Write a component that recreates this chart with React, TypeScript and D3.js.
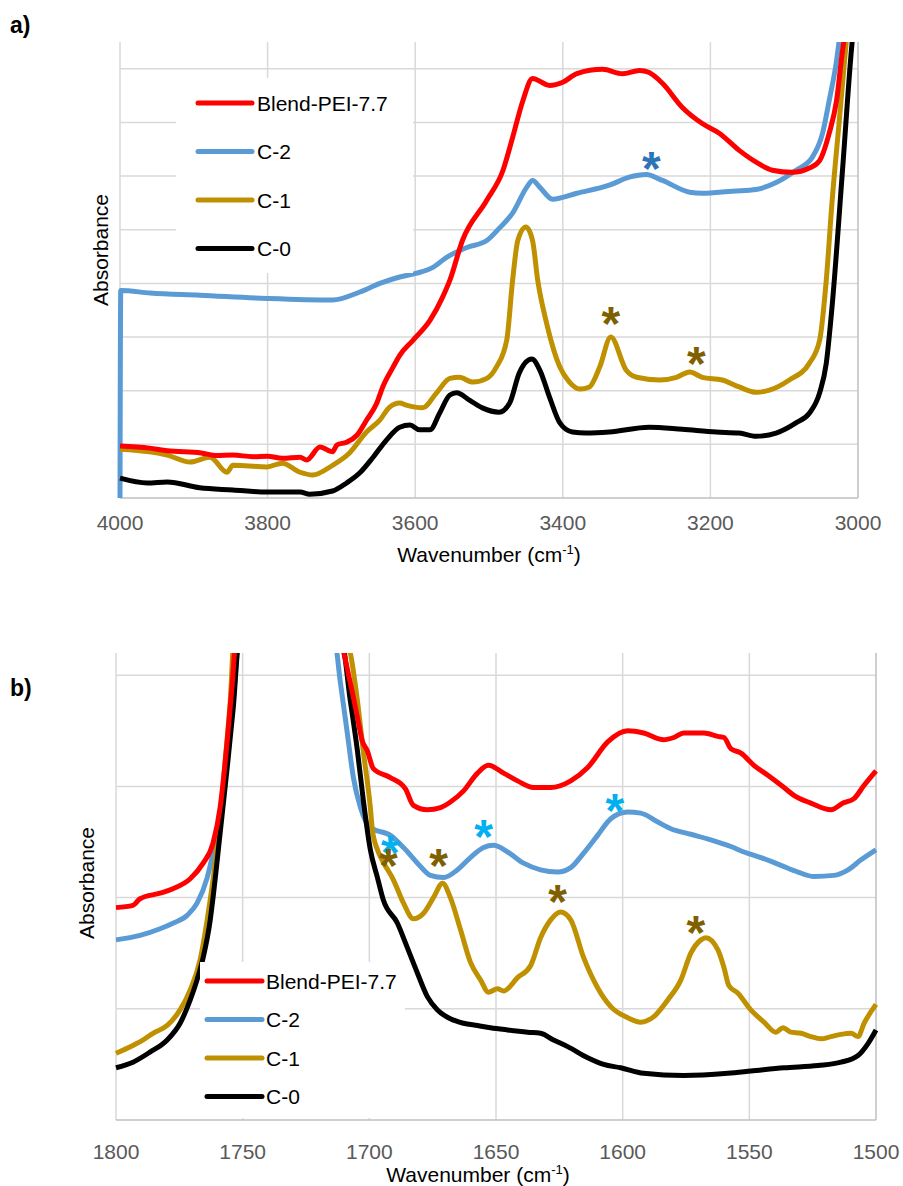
import React, { useEffect, useRef } from 'react';
import * as d3 from 'd3';

// series names (legend order)
const seriesNames = ['Blend-PEI-7.7', 'C-2', 'C-1', 'C-0'];

// panel a) 4000-3000 cm-1, [wavenumber, absorbance]
const aBlend = [[4000,0.097],[3960,0.093],[3936,0.088],[3890,0.084],[3870,0.079],[3847,0.080],[3820,0.077],[3800,0.078],[3780,0.074],[3756,0.076],[3747,0.071],[3729,0.095],[3712,0.086],[3706,0.099],[3693,0.104],[3679,0.117],[3666,0.145],[3652,0.177],[3644,0.207],[3630,0.244],[3621,0.266],[3603,0.294],[3580,0.331],[3563,0.374],[3553,0.406],[3536,0.480],[3503,0.555],[3481,0.611],[3468,0.672],[3454,0.741],[3441,0.782],[3418,0.769],[3400,0.775],[3381,0.791],[3346,0.799],[3319,0.791],[3296,0.797],[3283,0.793],[3265,0.773],[3238,0.728],[3211,0.698],[3188,0.680],[3161,0.648],[3138,0.626],[3116,0.611],[3089,0.607],[3066,0.615],[3052,0.629],[3039,0.680],[3029,0.741],[3021,0.834],[3017,0.87]];
const aC2 = [[4000,0],[3999,0.387],[3959,0.382],[3892,0.378],[3801,0.372],[3712,0.369],[3675,0.384],[3648,0.400],[3621,0.412],[3598,0.419],[3576,0.430],[3557,0.449],[3530,0.467],[3503,0.480],[3486,0.503],[3468,0.531],[3449,0.579],[3441,0.592],[3431,0.579],[3414,0.557],[3381,0.568],[3337,0.583],[3310,0.598],[3287,0.603],[3265,0.592],[3228,0.570],[3211,0.568],[3170,0.572],[3138,0.575],[3111,0.588],[3084,0.611],[3062,0.635],[3048,0.680],[3039,0.741],[3029,0.816],[3024,0.87]];
const aC1 = [[4000,0.091],[3960,0.086],[3936,0.080],[3905,0.067],[3878,0.076],[3855,0.048],[3847,0.061],[3830,0.060],[3801,0.058],[3780,0.065],[3756,0.048],[3739,0.043],[3712,0.061],[3689,0.084],[3666,0.123],[3648,0.145],[3635,0.169],[3621,0.177],[3612,0.173],[3590,0.168],[3571,0.196],[3553,0.223],[3540,0.225],[3522,0.216],[3503,0.223],[3490,0.244],[3476,0.294],[3468,0.406],[3461,0.480],[3450,0.505],[3441,0.480],[3434,0.406],[3422,0.326],[3404,0.244],[3391,0.216],[3377,0.203],[3364,0.207],[3350,0.244],[3335,0.300],[3314,0.238],[3300,0.225],[3269,0.220],[3246,0.225],[3228,0.235],[3211,0.225],[3184,0.220],[3161,0.207],[3138,0.197],[3120,0.201],[3093,0.220],[3066,0.251],[3052,0.294],[3043,0.406],[3035,0.555],[3025,0.709],[3016,0.849],[3013,0.89]];
const aC0 = [[4000,0.037],[3963,0.028],[3936,0.030],[3892,0.019],[3847,0.015],[3801,0.011],[3756,0.011],[3743,0.007],[3712,0.013],[3693,0.028],[3675,0.047],[3657,0.076],[3639,0.108],[3621,0.132],[3607,0.136],[3594,0.127],[3580,0.127],[3567,0.158],[3553,0.192],[3544,0.196],[3526,0.182],[3509,0.168],[3486,0.160],[3472,0.177],[3459,0.233],[3442,0.259],[3431,0.238],[3418,0.188],[3404,0.140],[3387,0.123],[3368,0.121],[3337,0.123],[3283,0.132],[3238,0.128],[3192,0.123],[3161,0.121],[3138,0.115],[3111,0.121],[3084,0.140],[3066,0.158],[3052,0.196],[3043,0.251],[3035,0.359],[3021,0.611],[3008,0.849],[3005,0.89]];

// panel b) 1800-1500 cm-1
const bBlend = [[1800,0.191],[1793.3,0.193],[1790.5,0.199],[1782.6,0.204],[1777.5,0.208],[1770.7,0.217],[1765.6,0.231],[1761.7,0.249],[1758.9,0.281],[1756.1,0.341],[1754.1,0.393],[1752.6,0.431],[1712.2,0.431],[1707.5,0.393],[1704.7,0.362],[1702.8,0.341],[1700.8,0.332],[1698.4,0.316],[1691.7,0.308],[1685.8,0.298],[1682.6,0.283],[1677.1,0.279],[1671.9,0.281],[1668,0.286],[1662.8,0.296],[1657.3,0.312],[1653,0.319],[1647,0.312],[1641.5,0.305],[1635.2,0.299],[1628.4,0.299],[1620.5,0.305],[1613.8,0.317],[1605.9,0.340],[1598,0.350],[1591.7,0.348],[1583.8,0.342],[1579.8,0.344],[1575.9,0.348],[1568,0.348],[1562.4,0.345],[1560,0.344],[1557.3,0.334],[1553.3,0.330],[1548.2,0.319],[1542.7,0.310],[1536.3,0.299],[1532.4,0.292],[1525.7,0.285],[1517.8,0.279],[1513,0.285],[1508.7,0.289],[1504.7,0.301],[1500,0.314]];
const bC2 = [[1800,0.162],[1790.5,0.166],[1782.6,0.172],[1777.5,0.177],[1771.9,0.184],[1768,0.195],[1764,0.218],[1761.7,0.240],[1758.9,0.272],[1756.1,0.326],[1753.7,0.377],[1751.4,0.431],[1713.8,0.431],[1711.4,0.393],[1708.7,0.348],[1706.3,0.308],[1703.5,0.281],[1699.6,0.263],[1691.7,0.256],[1686.5,0.245],[1681,0.231],[1675.9,0.220],[1670.7,0.218],[1665.2,0.225],[1660.1,0.236],[1654.9,0.245],[1651,0.247],[1645.4,0.241],[1639.1,0.231],[1632.4,0.225],[1625.7,0.223],[1620.5,0.227],[1615.4,0.240],[1609.9,0.256],[1604.7,0.271],[1598,0.277],[1592.9,0.276],[1586.1,0.268],[1581,0.262],[1573.1,0.257],[1565.2,0.252],[1557.3,0.246],[1552.1,0.241],[1545.4,0.236],[1537.5,0.229],[1530.8,0.223],[1524.5,0.219],[1516.6,0.220],[1511,0.225],[1505.9,0.234],[1500,0.243]];
const bC1 = [[1800,0.060],[1793.3,0.067],[1789.3,0.072],[1785.4,0.078],[1779.8,0.085],[1774.7,0.099],[1770.7,0.117],[1766.8,0.144],[1764,0.180],[1761.7,0.216],[1758.9,0.270],[1756.9,0.323],[1754.9,0.377],[1753.4,0.431],[1708.7,0.431],[1707.5,0.420],[1704.7,0.377],[1702.4,0.332],[1699.6,0.281],[1698.8,0.261],[1696.8,0.243],[1694.5,0.232],[1690.5,0.216],[1686.5,0.195],[1682.6,0.181],[1678.6,0.186],[1674.7,0.200],[1671.1,0.213],[1668,0.200],[1664,0.171],[1660.1,0.142],[1656.1,0.126],[1653,0.115],[1649.4,0.118],[1647,0.116],[1641.5,0.128],[1636.3,0.139],[1632.4,0.164],[1628.4,0.180],[1624.5,0.187],[1620.5,0.180],[1615.4,0.146],[1609.9,0.119],[1604.7,0.102],[1598,0.092],[1592.9,0.088],[1587.7,0.093],[1582.2,0.108],[1577,0.126],[1573.1,0.150],[1569.1,0.162],[1567.2,0.164],[1562.4,0.153],[1560,0.137],[1558.1,0.121],[1554.5,0.114],[1549.4,0.099],[1544.2,0.088],[1539.5,0.079],[1536.7,0.083],[1533.6,0.079],[1529.6,0.078],[1525.7,0.075],[1521.7,0.073],[1517.8,0.075],[1513.8,0.077],[1509.8,0.078],[1507.1,0.075],[1504.7,0.087],[1500,0.104]];
const bC0 = [[1800,0.047],[1793.3,0.052],[1786.6,0.061],[1779.8,0.072],[1774.7,0.087],[1770.7,0.108],[1768,0.126],[1765.6,0.146],[1762.8,0.180],[1761.7,0.200],[1758.9,0.258],[1756.1,0.317],[1753.7,0.371],[1751.4,0.431],[1711.1,0.431],[1707.5,0.377],[1704.7,0.332],[1702.4,0.288],[1699.6,0.243],[1696.8,0.218],[1694.5,0.198],[1688.9,0.177],[1685,0.155],[1681,0.132],[1677.1,0.111],[1673.1,0.099],[1668,0.091],[1662.8,0.087],[1657.3,0.085],[1652.2,0.083],[1645.4,0.081],[1637.5,0.079],[1632.4,0.078],[1627.3,0.072],[1621.7,0.066],[1613.8,0.056],[1607.5,0.050],[1600.8,0.047],[1591.7,0.042],[1575.9,0.040],[1558.5,0.042],[1549.4,0.044],[1536.3,0.047],[1522.9,0.049],[1513.8,0.052],[1507.1,0.058],[1503.1,0.069],[1500,0.081]];

// asterisk marks [series, wavenumber, absorbance]
const starsA = [['C-2',3280,0.633],['C-1',3335,0.345],['C-1',3219,0.270]];
const starsB = [['C-2',1691.7,0.250],['C-1',1692.5,0.238],['C-1',1672.7,0.238],['C-2',1654.9,0.264],['C-1',1625.7,0.206],['C-2',1603.1,0.288],['C-1',1571.1,0.178]];

const ticksA = [4000, 3800, 3600, 3400, 3200, 3000];
const ticksB = [1800, 1750, 1700, 1650, 1600, 1550, 1500];
const gridA = [0.1, 0.2, 0.3, 0.4, 0.5, 0.6, 0.7, 0.8];
const gridB = [0.1, 0.2, 0.3, 0.4];

const lineColors = { 'Blend-PEI-7.7': '#ff0000', 'C-2': '#5b9bd5', 'C-1': '#bf9000', 'C-0': '#000000' };
const drawOrder = ['C-2', 'C-1', 'C-0', 'Blend-PEI-7.7'];
const FONT = '"Liberation Sans", Arial, sans-serif';

const panels = [
  {
    id: 'a', label: 'a)', labelY: 33,
    left: 120, right: 858, top: 42, bottom: 498,
    xDomain: [4000, 3000], yMax: 0.85, ticks: ticksA, grid: gridA,
    data: { 'Blend-PEI-7.7': aBlend, 'C-2': aC2, 'C-1': aC1, 'C-0': aC0 },
    stars: starsA, starColors: { 'C-2': '#2e75b6', 'C-1': '#7f6000' },
    legend: { x1: 198, x2: 252, y0: 103, dy: 48.5, tx: 257, box: [176, 78, 237, 195] },
    tickY: 530, titleX: 489, titleY: 562, yTitleX: 108, yTitleY: 250,
  },
  {
    id: 'b', label: 'b)', labelY: 696,
    left: 116, right: 876, top: 653, bottom: 1120,
    xDomain: [1800, 1500], yMax: 0.42, ticks: ticksB, grid: gridB,
    data: { 'Blend-PEI-7.7': bBlend, 'C-2': bC2, 'C-1': bC1, 'C-0': bC0 },
    stars: starsB, starColors: { 'C-2': '#00b0f0', 'C-1': '#7f6000' },
    legend: { x1: 207, x2: 262, y0: 981, dy: 38.5, tx: 266, box: [200, 962, 205, 156] },
    tickY: 1159, titleX: 478, titleY: 1182, yTitleX: 94, yTitleY: 883,
  },
];

const App = () => {
  const svgRef = useRef(null);

  useEffect(() => {
    const svg = d3.select(svgRef.current);
    svg.selectAll('*').remove();

    panels.forEach(p => {
      const x = d3.scaleLinear().domain(p.xDomain).range([p.left, p.right]);
      const y = d3.scaleLinear().domain([0, p.yMax]).range([p.bottom, p.top]);
      const g = svg.append('g');

      g.append('clipPath').attr('id', 'clip-' + p.id)
        .append('rect')
        .attr('x', p.left - 3).attr('y', p.top)
        .attr('width', p.right - p.left + 6).attr('height', p.bottom - p.top);

      // grid
      g.selectAll('.hg').data(p.grid).enter().append('line')
        .attr('x1', p.left).attr('x2', p.right)
        .attr('y1', d => y(d)).attr('y2', d => y(d))
        .style('stroke', '#d9d9d9').style('stroke-width', 1.5);
      g.selectAll('.vg').data(p.ticks.slice(0, -1)).enter().append('line')
        .attr('x1', d => x(d)).attr('x2', d => x(d))
        .attr('y1', p.top).attr('y2', p.bottom)
        .style('stroke', '#d9d9d9').style('stroke-width', 1.5);
      // axis lines
      g.append('line').attr('x1', p.left).attr('x2', p.right)
        .attr('y1', p.bottom).attr('y2', p.bottom)
        .style('stroke', '#bfbfbf').style('stroke-width', 1.5);
      g.append('line').attr('x1', p.right).attr('x2', p.right)
        .attr('y1', p.top).attr('y2', p.bottom)
        .style('stroke', '#bfbfbf').style('stroke-width', 1.5);

      // tick labels
      g.selectAll('.tl').data(p.ticks).enter().append('text')
        .attr('x', d => x(d)).attr('y', p.tickY)
        .attr('text-anchor', 'middle')
        .style('font-family', FONT).style('font-size', '21px').style('fill', '#595959')
        .text(d => d);

      // spectra
      const line = d3.line().curve(d3.curveMonotoneX).x(d => x(d[0])).y(d => y(d[1]));
      const lg = g.append('g').attr('clip-path', `url(#clip-${p.id})`);
      drawOrder.forEach(name => {
        lg.append('path')
          .attr('d', line(p.data[name]))
          .style('fill', 'none')
          .style('stroke', lineColors[name])
          .style('stroke-width', 5)
          .style('stroke-linejoin', 'round');
      });

      // asterisks
      g.selectAll('.star').data(p.stars).enter().append('text')
        .attr('x', d => x(d[1])).attr('y', d => y(d[2]) + 27)
        .attr('text-anchor', 'middle')
        .style('font-family', FONT).style('font-size', '48px').style('font-weight', 'bold')
        .style('fill', d => p.starColors[d[0]])
        .text('*');

      // legend
      const L = p.legend;
      g.append('rect')
        .attr('x', L.box[0]).attr('y', L.box[1]).attr('width', L.box[2]).attr('height', L.box[3])
        .style('fill', '#ffffff');
      seriesNames.forEach((name, i) => {
        const ly = L.y0 + i * L.dy;
        g.append('line').attr('x1', L.x1).attr('x2', L.x2).attr('y1', ly).attr('y2', ly)
          .style('stroke', lineColors[name]).style('stroke-width', 5).style('stroke-linecap', 'round');
        g.append('text').attr('x', L.tx).attr('y', ly + 7.5)
          .style('font-family', FONT).style('font-size', '21px').style('fill', '#000')
          .text(name);
      });

      // axis titles
      const t = g.append('text').attr('x', p.titleX).attr('y', p.titleY)
        .attr('text-anchor', 'middle')
        .style('font-family', FONT).style('font-size', '21px').style('fill', '#000');
      t.append('tspan').text('Wavenumber (cm');
      t.append('tspan').attr('dy', -8).style('font-size', '13px').text('-1');
      t.append('tspan').attr('dy', 8).text(')');

      g.append('text')
        .attr('transform', `translate(${p.yTitleX},${p.yTitleY}) rotate(-90)`)
        .attr('text-anchor', 'middle')
        .style('font-family', FONT).style('font-size', '21px').style('fill', '#000')
        .text('Absorbance');

      g.append('text').attr('x', 10).attr('y', p.labelY)
        .style('font-family', FONT).style('font-size', '23px').style('font-weight', 'bold')
        .text(p.label);
    });
  }, []);

  return (
    <svg ref={svgRef} width={903} height={1186}
      style={{ position: 'absolute', left: 0, top: 0, background: '#fff' }}></svg>
  );
};

export default App;
